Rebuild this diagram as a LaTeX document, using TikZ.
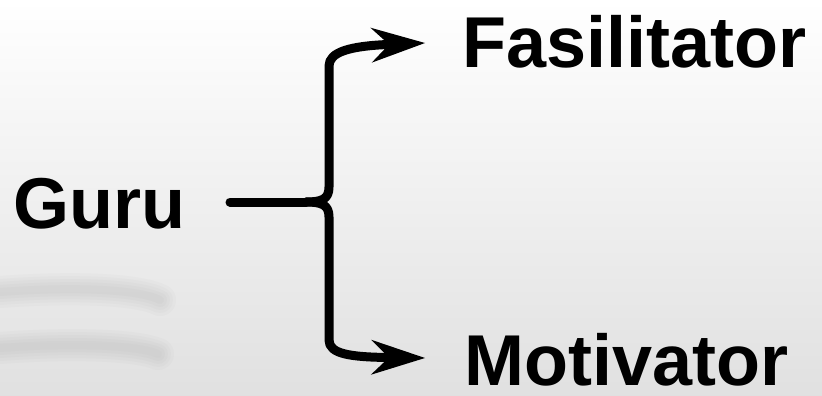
\documentclass[tikz,border=0pt]{standalone}
\usepackage{fontspec}
\setmainfont{Liberation Sans}
\usetikzlibrary{arrows.meta}
\begin{document}
\begin{tikzpicture}[x=1pt,y=-1pt,
  label/.style={font=\fontsize{72}{80}\selectfont\bfseries, inner sep=0pt, anchor=base west, text=black},
  connector/.style={line width=9pt, line cap=round, line join=round,
    -{Stealth[length=54pt,width=35pt,inset=18pt,line width=0pt]}},
  bracepart/.style={line width=9pt, line cap=round, line join=round},
  ghost/.style={line cap=round, draw=gray, opacity=0.035}]
  \useasboundingbox (0,0) rectangle (822,396);
  % background
  \shade[top color=white, bottom color=black!12] (0,0) rectangle (822,396);
  % faint photo hints on the left (soft, blurred)
  \foreach \w in {8,14,20,26,32}{
    \draw[ghost, line width=\w pt] (0,292) .. controls (80,286) and (140,290) .. (160,300);
    \draw[ghost, line width=\w pt] (0,348) .. controls (80,342) and (140,346) .. (158,354);
  }
  % labels
  \node[label] (guru) at (13,228) {Guru};
  \node[label] (fas) at (462,68) {Fasilitator};
  \node[label] (mot) at (464,385) {Motivator};
  % brace connectors
  \coordinate (gstart) at (230,202);
  \coordinate (btip) at (306,202);
  \coordinate (tipf) at (425,43);
  \coordinate (tipm) at (425,358);
  \draw[bracepart] (gstart) -- (btip);
  \draw[connector] (btip) .. controls (322,202) and (329,199) .. (329,187)
     -- (329,66) .. controls (329,52) and (350,46) .. (tipf);
  \draw[connector] (btip) .. controls (322,202) and (329,205) .. (329,217)
     -- (329,340) .. controls (329,354) and (350,357) .. (tipm);
\end{tikzpicture}
\end{document}
